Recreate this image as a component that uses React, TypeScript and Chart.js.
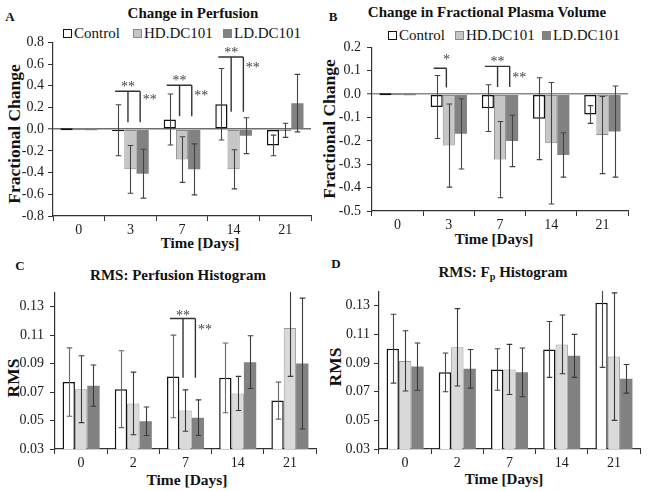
import React, { useEffect, useRef } from "react";
import { Chart, registerables } from "chart.js";

Chart.register(...registerables);

const FONT = '"Liberation Serif", "Times New Roman", Times, serif';
Chart.defaults.font.family = FONT;

const SERIES = ["Control", "HD.DC101", "LD.DC101"];

// ---------- Panel A: Change in Perfusion ----------
const daysA = ["0", "3", "7", "14", "21"];
const perfControl = [0, -0.01, 0.09, 0.23, -0.15];
const perfControlErr = [0, 0.235, 0.235, 0.33, 0.095];
const perfHD = [0, -0.37, -0.28, -0.37, -0.01];
const perfHDErr = [0, 0.22, 0.21, 0.18, 0.065];
const perfLD = [0, -0.41, -0.37, -0.06, 0.24];
const perfLDErr = [0, 0.225, 0.235, 0.165, 0.265];
const perfTicks = [-0.8, -0.6, -0.4, -0.2, 0, 0.2, 0.4, 0.6, 0.8];
const perfSig = [
  { day: 1, top: 0.35, drop: 0.065, to: [1, 2], above: 0.41, aboveText: "**", side: 0.29, sideText: "**" },
  { day: 2, top: 0.405, drop: 0.12, to: [1, 2], above: 0.466, aboveText: "**", side: 0.328, sideText: "**" },
  { day: 3, top: 0.665, drop: 0.16, to: [1, 2], above: 0.726, aboveText: "**", side: 0.59, sideText: "**" },
];

// ---------- Panel B: Change in Fractional Plasma Volume ----------
const daysB = ["0", "3", "7", "14", "21"];
const vpControl = [0, -0.055, -0.06, -0.105, -0.087];
const vpControlErr = [0, 0.135, 0.1, 0.175, 0.038];
const vpHD = [0, -0.22, -0.28, -0.21, -0.175];
const vpHDErr = [0, 0.178, 0.163, 0.26, 0.165];
const vpLD = [0, -0.17, -0.2, -0.26, -0.16];
const vpLDErr = [0, 0.15, 0.11, 0.095, 0.195];
const vpTicks = [-0.5, -0.4, -0.3, -0.2, -0.1, 0, 0.1, 0.2];
const vpSig = [
  { day: 1, top: 0.111, drop: 0.028, to: [1], above: 0.158, aboveText: "*" },
  { day: 2, top: 0.119, drop: 0.031, to: [1, 2], above: 0.148, aboveText: "**", side: 0.08, sideText: "**" },
];

// ---------- Panel C: RMS Perfusion Histogram ----------
const daysC = ["0", "2", "7", "14", "21"];
const rmsPerfControl = [0.077, 0.072, 0.081, 0.08, 0.064];
const rmsPerfControlErr = [0.024, 0.027, 0.029, 0.0245, 0.013];
const rmsPerfHD = [0.072, 0.062, 0.057, 0.069, 0.115];
const rmsPerfHDErr = [0.0235, 0.022, 0.0145, 0.012, 0.034];
const rmsPerfLD = [0.0745, 0.0495, 0.052, 0.091, 0.09];
const rmsPerfLDErr = [0.0145, 0.01, 0.0125, 0.0185, 0.046];
const rmsTicks = [0.03, 0.05, 0.07, 0.09, 0.11, 0.13];
const rmsPerfSig = [
  { day: 2, top: 0.1217, drop: 0.08, to: [1, 2], above: 0.1254, aboveText: "**", side: 0.1155, sideText: "**" },
];

// ---------- Panel D: RMS Fp Histogram ----------
const daysD = ["0", "2", "7", "14", "21"];
const rmsFpControl = [0.1, 0.0835, 0.0855, 0.0995, 0.132];
const rmsFpControlErr = [0.024, 0.0135, 0.0145, 0.0195, 0.045];
const rmsFpHD = [0.0915, 0.101, 0.0855, 0.103, 0.0945];
const rmsFpHDErr = [0.021, 0.027, 0.0175, 0.0205, 0.0445];
const rmsFpLD = [0.0875, 0.086, 0.0835, 0.095, 0.079];
const rmsFpLDErr = [0.0165, 0.0135, 0.017, 0.015, 0.01];

type Sig = { day: number; top: number; drop: number; to: number[]; above: number; aboveText: string; side?: number; sideText?: string };

type Spec = {
  labels: string[];
  values: number[][];
  errors: number[][];
  fills: string[];
  borders: string[];
  borderWidths: number[];
  errColors: string[];
  ticks: number[];
  min: number;
  max: number;
  decimals: number;
  zeroLine: string | null;
  sig: Sig[];
  plot: { l: number; t: number; r: number; b: number };
  cx: number;
  xH: number;
  tickPad: number;
};

const PAD_TOP = 12;
const PAD_RIGHT = 8;

function buildConfig(s: Spec): any {
  const errorPlugin = {
    id: "errorBars",
    afterDatasetsDraw(chart: any) {
      const { ctx, chartArea } = chart;
      const y = chart.scales.y;
      ctx.save();
      ctx.beginPath();
      ctx.rect(chartArea.left, chartArea.top - 0.5, chartArea.right - chartArea.left, chartArea.bottom - chartArea.top + 1);
      ctx.clip();
      s.values.forEach((vals, i) => {
        const meta = chart.getDatasetMeta(i);
        meta.data.forEach((el: any, j: number) => {
          const e = s.errors[i][j];
          if (!e) return;
          const v = vals[j];
          const x = Math.round(el.x) + 0.5;
          const y1 = y.getPixelForValue(v + e);
          const y2 = y.getPixelForValue(v - e);
          ctx.strokeStyle = s.errColors[i];
          ctx.lineWidth = 1.1;
          ctx.beginPath();
          ctx.moveTo(x, y1);
          ctx.lineTo(x, y2);
          ctx.moveTo(x - 2.8, y1);
          ctx.lineTo(x + 2.8, y1);
          ctx.moveTo(x - 2.8, y2);
          ctx.lineTo(x + 2.8, y2);
          ctx.stroke();
        });
      });
      ctx.restore();
    },
  };

  const sigPlugin = {
    id: "sigBrackets",
    afterDatasetsDraw(chart: any) {
      const { ctx } = chart;
      const y = chart.scales.y;
      ctx.save();
      ctx.strokeStyle = "#333";
      ctx.lineWidth = 1.4;
      ctx.fillStyle = "#444";
      ctx.font = `14px ${FONT}`;
      ctx.textAlign = "center";
      ctx.textBaseline = "alphabetic";
      s.sig.forEach((g) => {
        const c = chart.getDatasetMeta(0).data[g.day] as any;
        const bw = c.width;
        const x0 = c.x - 0.25 * bw;
        const xs = g.to.map((k) => (chart.getDatasetMeta(k).data[g.day] as any).x - 0.2 * bw);
        const yt = y.getPixelForValue(g.top);
        const yb = y.getPixelForValue(g.drop);
        const xEnd = xs[xs.length - 1];
        ctx.beginPath();
        ctx.moveTo(x0, yt);
        ctx.lineTo(xEnd, yt);
        xs.forEach((x) => {
          ctx.moveTo(x, yt);
          ctx.lineTo(x, yb);
        });
        ctx.stroke();
        ctx.fillText(g.aboveText, xs[0], y.getPixelForValue(g.above) + 6.5);
        if (g.side !== undefined && g.sideText) {
          ctx.fillText(g.sideText, xEnd + 9.5, y.getPixelForValue(g.side) + 6.5);
        }
      });
      ctx.restore();
    },
  };

  const tickFont = { family: FONT, size: 14 };
  const yW = s.plot.l - s.cx;
  return {
    type: "bar",
    data: {
      labels: s.labels,
      datasets: s.values.map((vals, i) => ({
        label: SERIES[i],
        data: vals,
        backgroundColor: s.fills[i],
        borderColor: s.borders[i],
        borderWidth: s.borderWidths[i],
        borderSkipped: false,
        categoryPercentage: 0.71,
        barPercentage: 1.0,
        minBarLength: s.zeroLine ? 2 : 0,
      })),
    },
    options: {
      responsive: false,
      animation: false,
      devicePixelRatio: 1,
      layout: { padding: { top: PAD_TOP, right: PAD_RIGHT, left: 0, bottom: 0 } },
      plugins: { legend: { display: false }, title: { display: false }, tooltip: { enabled: false } },
      scales: {
        x: {
          type: "category",
          offset: true,
          afterFit: (sc: any) => {
            sc.height = s.xH;
          },
          grid: { offset: true, drawOnChartArea: false, drawTicks: true, tickLength: 5, color: "#333", lineWidth: 1 },
          border: { color: "#333", width: 1.2 },
          ticks: { font: tickFont, color: "#1a1a1a", padding: 1, maxRotation: 0, autoSkip: false },
        },
        y: {
          type: "linear",
          min: s.min,
          max: s.max,
          afterFit: (sc: any) => {
            sc.width = yW;
          },
          afterBuildTicks: (sc: any) => {
            sc.ticks = s.ticks.map((v) => ({ value: v }));
          },
          grid: {
            drawOnChartArea: !!s.zeroLine,
            drawTicks: true,
            tickLength: 5,
            tickColor: "#333",
            tickWidth: 1,
            color: (c: any) => (s.zeroLine && c.tick && Math.abs(c.tick.value) < 1e-9 ? s.zeroLine : "rgba(0,0,0,0)"),
            lineWidth: (c: any) => (c.tick && Math.abs(c.tick.value) < 1e-9 ? 1.5 : 1),
          },
          border: { color: "#333", width: 1.2 },
          ticks: {
            font: tickFont,
            color: "#1a1a1a",
            padding: s.tickPad,
            autoSkip: false,
            callback: (v: any) => {
              const n = Number(v);
              return Math.abs(n) < 1e-9 ? (0).toFixed(s.decimals) : n.toFixed(s.decimals);
            },
          },
        },
      },
    },
    plugins: [errorPlugin, sigPlugin],
  };
}

function Panel({ spec }: { spec: Spec }) {
  const ref = useRef<HTMLCanvasElement>(null);
  const top = spec.plot.t - PAD_TOP;
  const w = spec.plot.r + PAD_RIGHT - spec.cx;
  const h = spec.plot.b + spec.xH - top;
  useEffect(() => {
    const chart = new Chart(ref.current as HTMLCanvasElement, buildConfig(spec));
    return () => chart.destroy();
  }, []);
  return (
    <canvas
      ref={ref}
      width={w}
      height={h}
      style={{ position: "absolute", left: spec.cx, top, width: w, height: h, display: "block" }}
    />
  );
}

function T(props: { x: number; y: number; size: number; bold?: boolean; rot?: boolean; children: any }) {
  return (
    <div
      style={{
        position: "absolute",
        left: props.x,
        top: props.y,
        transform: `translate(-50%, -50%)${props.rot ? " rotate(-90deg)" : ""}`,
        fontFamily: FONT,
        fontSize: props.size,
        fontWeight: props.bold ? "bold" : "normal",
        lineHeight: 1,
        whiteSpace: "nowrap",
        color: "#111",
      }}
    >
      {props.children}
    </div>
  );
}

const LEGEND_FILLS = ["#ffffff", "#c6c6c6", "#828282"];
const LEGEND_BORDERS = ["#111", "#8a8a8a", "#828282"];

function Legend({ y, lefts }: { y: number; lefts: number[] }) {
  return (
    <>
      {SERIES.map((name, i) => (
        <div
          key={name}
          style={{
            position: "absolute",
            left: lefts[i],
            top: y - 8,
            height: 16,
            display: "flex",
            alignItems: "center",
            fontFamily: FONT,
            fontSize: 15,
            lineHeight: 1,
            whiteSpace: "nowrap",
            color: "#111",
          }}
        >
          <span
            style={{
              display: "inline-block",
              width: 9,
              height: 9,
              boxSizing: "border-box",
              background: LEGEND_FILLS[i],
              border: `${i === 0 ? 1.5 : 1}px solid ${LEGEND_BORDERS[i]}`,
              marginRight: 2,
            }}
          />
          {name}
        </div>
      ))}
    </>
  );
}

const fillsTop = ["#ffffff", "#c6c6c6", "#828282"];
const fillsBottom = ["#ffffff", "#dadada", "#828282"];
const bordersTop = ["#111111", "#8a8a8a", "#828282"];
const bordersBottom = ["#111111", "#9a9a9a", "#828282"];

const specA: Spec = {
  labels: daysA,
  values: [perfControl, perfHD, perfLD],
  errors: [perfControlErr, perfHDErr, perfLDErr],
  fills: fillsTop,
  borders: bordersTop,
  borderWidths: [1.5, 1, 0],
  errColors: ["#444", "#444", "#444"],
  ticks: perfTicks,
  min: -0.8,
  max: 0.8,
  decimals: 1,
  zeroLine: "#6e6e6e",
  sig: perfSig,
  plot: { l: 53, t: 42, r: 311, b: 216 },
  cx: 0,
  xH: 24,
  tickPad: 4,
};

const specB: Spec = {
  labels: daysB,
  values: [vpControl, vpHD, vpLD],
  errors: [vpControlErr, vpHDErr, vpLDErr],
  fills: fillsTop,
  borders: bordersTop,
  borderWidths: [1.5, 1, 0],
  errColors: ["#444", "#444", "#444"],
  ticks: vpTicks,
  min: -0.5,
  max: 0.2,
  decimals: 1,
  zeroLine: "#8a8a8a",
  sig: vpSig,
  plot: { l: 372, t: 45, r: 628, b: 211 },
  cx: 321,
  xH: 25,
  tickPad: 6,
};

const specC: Spec = {
  labels: daysC,
  values: [rmsPerfControl, rmsPerfHD, rmsPerfLD],
  errors: [rmsPerfControlErr, rmsPerfHDErr, rmsPerfLDErr],
  fills: fillsBottom,
  borders: bordersBottom,
  borderWidths: [1.5, 1, 0],
  errColors: ["#666", "#3a3a3a", "#3a3a3a"],
  ticks: rmsTicks,
  min: 0.03,
  max: 0.14,
  decimals: 2,
  zeroLine: null,
  sig: rmsPerfSig,
  plot: { l: 55, t: 290, r: 316, b: 449 },
  cx: 0,
  xH: 23,
  tickPad: 6,
};

const specD: Spec = {
  labels: daysD,
  values: [rmsFpControl, rmsFpHD, rmsFpLD],
  errors: [rmsFpControlErr, rmsFpHDErr, rmsFpLDErr],
  fills: fillsBottom,
  borders: bordersBottom,
  borderWidths: [1.5, 1, 0],
  errColors: ["#444", "#3a3a3a", "#3a3a3a"],
  ticks: rmsTicks,
  min: 0.03,
  max: 0.14,
  decimals: 2,
  zeroLine: null,
  sig: [],
  plot: { l: 379, t: 291, r: 640, b: 449 },
  cx: 324,
  xH: 23,
  tickPad: 4,
};

export default function App() {
  return (
    <div
      style={{
        position: "fixed",
        left: 0,
        top: 0,
        width: 649,
        height: 491,
        background: "#ffffff",
        overflow: "hidden",
      }}
    >
      {/* Panel A */}
      <T x={10} y={16} size={13} bold>A</T>
      <T x={193} y={13} size={15} bold>Change in Perfusion</T>
      <Legend y={33} lefts={[63, 133, 223]} />
      <T x={15} y={134} size={17.5} bold rot>Fractional Change</T>
      <T x={200} y={243} size={15} bold>Time [Days]</T>

      {/* Panel B */}
      <T x={333} y={16} size={13} bold>B</T>
      <T x={487} y={12} size={15} bold>Change in Fractional Plasma Volume</T>
      <Legend y={35} lefts={[388, 455, 542]} />
      <T x={330} y={129} size={17.5} bold rot>Fractional Change</T>
      <T x={494} y={239} size={15} bold>Time [Days]</T>

      {/* Panel C */}
      <T x={20} y={265} size={13} bold>C</T>
      <T x={178} y={275} size={15} bold>RMS: Perfusion Histogram</T>
      <T x={14} y={378} size={17.5} bold rot>RMS</T>
      <T x={187} y={480} size={15.5} bold>Time [Days]</T>

      {/* Panel D */}
      <T x={336} y={263} size={13} bold>D</T>
      <T x={503} y={272} size={15} bold>
        RMS: F<span style={{ fontSize: "0.68em", position: "relative", top: "0.3em" }}>p</span> Histogram
      </T>
      <T x={336} y={367} size={17.5} bold rot>RMS</T>
      <T x={504} y={479} size={15} bold>Time [Days]</T>

      <Panel spec={specA} />
      <Panel spec={specB} />
      <Panel spec={specC} />
      <Panel spec={specD} />
    </div>
  );
}
